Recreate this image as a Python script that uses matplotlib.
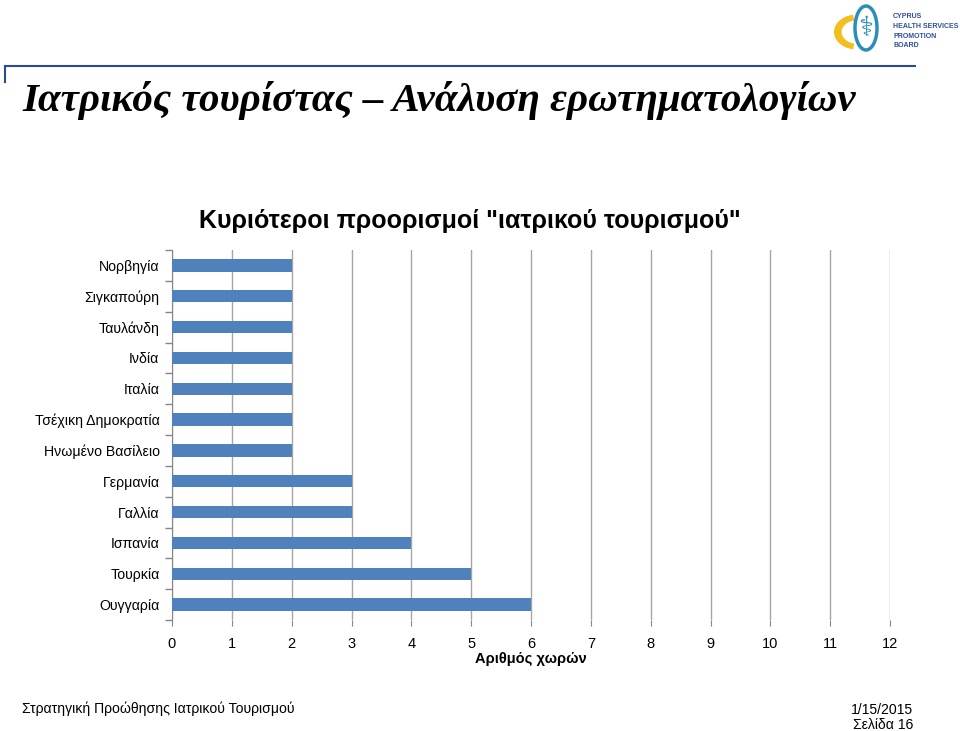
import matplotlib.pyplot as plt
from matplotlib.patches import Wedge, Ellipse
from matplotlib.lines import Line2D

countries = ['Νορβηγία', 'Σιγκαπούρη', 'Ταυλάνδη', 'Ινδία', 'Ιταλία',
             'Τσέχικη Δημοκρατία', 'Ηνωμένο Βασίλειο', 'Γερμανία', 'Γαλλία',
             'Ισπανία', 'Τουρκία', 'Ουγγαρία']
values = [2, 2, 2, 2, 2, 2, 2, 3, 3, 4, 5, 6]
xticks = list(range(0, 13))

plt.rcParams['font.family'] = ['Liberation Sans', 'DejaVu Sans']

fig = plt.figure(figsize=(9.6, 7.31), dpi=100)
W, H = 960, 731

def fx(px):
    return px / W

def fy(py):
    return 1 - py / H

# slide decoration: top rule and logo
fig.add_artist(Line2D([fx(5), fx(915)], [fy(66), fy(66)], color='#2a4a94', lw=1.5))
fig.add_artist(Line2D([fx(5), fx(5)], [fy(66), fy(82)], color='#2a4a94', lw=1.5))
fig.add_artist(Wedge((fx(857), fy(32)), 0.024, 100, 260, width=0.008,
                     facecolor='#f2c01e', edgecolor='none', transform=fig.transFigure))
fig.add_artist(Ellipse((fx(866), fy(28)), fx(22), fy(0) - fy(44),
                       facecolor='none', edgecolor='#2b8fb5', lw=2.5, transform=fig.transFigure))
fig.text(fx(866), fy(28), '⚕', ha='center', va='center', fontsize=20, color='#2b8fb5',
         family=['DejaVu Sans'])
fig.text(fx(893), fy(13), 'CYPRUS\nHEALTH SERVICES\nPROMOTION\nBOARD', ha='left', va='top',
         fontsize=5.0, fontweight='bold', color='#2f4e9c', linespacing=1.55)

# slide title
fig.text(fx(22), fy(100), 'Ιατρικός τουρίστας – Ανάλυση ερωτηματολογίων', ha='left', va='center',
         fontsize=29.5, fontweight='bold', fontstyle='italic',
         family=['Liberation Serif', 'DejaVu Serif'])

# footer
fig.text(fx(22), fy(709), 'Στρατηγική Προώθησης Ιατρικού Τουρισμού', ha='left', va='center',
         fontsize=10.1)
fig.text(fx(913), fy(710), '1/15/2015', ha='right', va='center', fontsize=10.1)
fig.text(fx(913), fy(725), 'Σελίδα 16', ha='right', va='center', fontsize=10.1)

# chart
ax = fig.add_axes([fx(172), fy(620), fx(890) - fx(172), fy(250) - fy(620)])
pos = list(range(len(countries)))
ax.barh(pos, values, height=0.4, color='#4f81bd', zorder=3)
ax.set_xlim(0, 12)
ax.set_ylim(len(countries) - 0.5, -0.5)
ax.set_xticks(xticks)
ax.set_yticks(pos)
ax.set_yticklabels(countries, fontsize=10.2)
ax.set_yticks([p - 0.5 for p in pos] + [len(countries) - 0.5], minor=True)
ax.tick_params(axis='y', which='major', length=0, pad=9)
ax.tick_params(axis='y', which='minor', length=5, color='#868686', width=1)
ax.tick_params(axis='x', length=4, color='#868686', labelsize=10.5, pad=8)
ax.grid(axis='x', color='#a6a6a6', lw=1, zorder=0)
for s in ['top', 'right', 'bottom']:
    ax.spines[s].set_visible(False)
ax.spines['left'].set_color('#868686')
ax.set_title('Κυριότεροι προορισμοί "ιατρικού τουρισμού"', fontsize=18, fontweight='bold',
             x=(470 - 172) / (890 - 172), pad=16)
ax.set_xlabel('Αριθμός χωρών', fontsize=10.5, fontweight='bold', labelpad=1)

fig.savefig('out.png', dpi=100)
